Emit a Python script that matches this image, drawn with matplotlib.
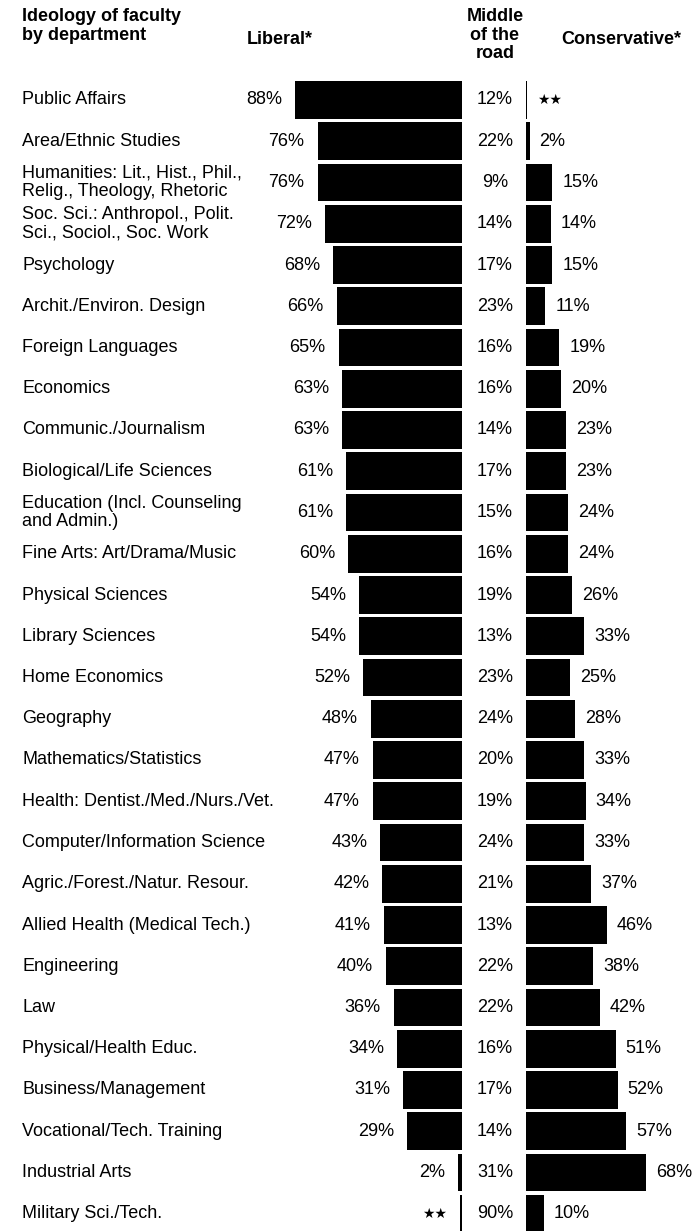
import numpy as np
import matplotlib.pyplot as plt
from matplotlib.transforms import blended_transform_factory

plt.rcParams['font.family'] = ['Liberation Sans', 'DejaVu Sans']

# Data (None = "**", less than 1%)
departments = [
    'Public Affairs', 'Area/Ethnic Studies',
    'Humanities: Lit., Hist., Phil.,\nRelig., Theology, Rhetoric',
    'Soc. Sci.: Anthropol., Polit.\nSci., Sociol., Soc. Work',
    'Psychology', 'Archit./Environ. Design', 'Foreign Languages', 'Economics',
    'Communic./Journalism', 'Biological/Life Sciences',
    'Education (Incl. Counseling\nand Admin.)', 'Fine Arts: Art/Drama/Music',
    'Physical Sciences', 'Library Sciences', 'Home Economics', 'Geography',
    'Mathematics/Statistics', 'Health: Dentist./Med./Nurs./Vet.',
    'Computer/Information Science', 'Agric./Forest./Natur. Resour.',
    'Allied Health (Medical Tech.)', 'Engineering', 'Law',
    'Physical/Health Educ.', 'Business/Management',
    'Vocational/Tech. Training', 'Industrial Arts', 'Military Sci./Tech.',
]
liberal = [88, 76, 76, 72, 68, 66, 65, 63, 63, 61, 61, 60, 54, 54, 52, 48,
           47, 47, 43, 42, 41, 40, 36, 34, 31, 29, 2, None]
middle = [12, 22, 9, 14, 17, 23, 16, 16, 14, 17, 15, 16, 19, 13, 23, 24,
          20, 19, 24, 21, 13, 22, 22, 16, 17, 14, 31, 90]
conservative = [None, 2, 15, 14, 15, 11, 19, 20, 23, 23, 24, 24, 26, 33, 25, 28,
                33, 34, 33, 37, 46, 38, 42, 51, 52, 57, 68, 10]

TINY = 0.8  # drawn width for "**" (<1%)

W, H = 692, 1231
fig = plt.figure(figsize=(W / 100, H / 100), dpi=100)

rows = np.arange(len(departments))
pitch = 41.25
ylim = ((H - 100) / pitch, -100 / pitch)

# liberal axis: zero at x=462px, 1.9 px per %
ax_lib = fig.add_axes([250 / W, 0, 212 / W, 1])
ax_lib.set_xlim(212 / 1.9, 0)
# conservative axis: zero at x=526px, 1.76 px per %
ax_con = fig.add_axes([526 / W, 0, 166 / W, 1])
ax_con.set_xlim(0, 166 / 1.76)
for ax in (ax_lib, ax_con):
    ax.set_ylim(*ylim)
    ax.axis('off')

FS = 13
LS = 1.12
lib_vals = [TINY if v is None else v for v in liberal]
con_vals = [TINY if v is None else v for v in conservative]
ax_lib.barh(rows, lib_vals, height=0.91, color='black', linewidth=0)
ax_con.barh(rows, con_vals, height=0.91, color='black', linewidth=0)

def star_or_pct(ax, v, y, dx, ha):
    x = TINY if v is None else v
    if v is None:
        ax.annotate('★★', (x, y), xytext=(dx, 0), textcoords='offset pixels',
                    ha=ha, va='center', fontsize=10, family='DejaVu Sans')
    else:
        ax.annotate(f'{v}%', (x, y), xytext=(dx, 0), textcoords='offset pixels',
                    ha=ha, va='center', fontsize=FS)

for i in rows:
    star_or_pct(ax_lib, liberal[i], i, -13, 'right')
    star_or_pct(ax_con, conservative[i], i, 10, 'left')

# department names and middle-of-the-road column
tr = blended_transform_factory(fig.transFigure, ax_lib.transData)
for i, name in enumerate(departments):
    ax_lib.text(22 / W, i, name, transform=tr, ha='left', va='center',
                fontsize=FS, linespacing=LS, clip_on=False)
    ax_lib.text(495 / W, i, f'{middle[i]}%', transform=tr, ha='center',
                va='center', fontsize=FS, clip_on=False)

# headers
fig.text(22 / W, 1 - 8 / H, 'Ideology of faculty\nby department', ha='left',
         va='top', fontsize=FS, fontweight='bold', linespacing=LS)
fig.text(247 / W, 1 - 44 / H, 'Liberal*', ha='left', va='baseline',
         fontsize=FS, fontweight='bold')
fig.text(495 / W, 1 - 8 / H, 'Middle\nof the\nroad', ha='center', va='top',
         fontsize=FS, fontweight='bold', linespacing=LS)
fig.text(561 / W, 1 - 44 / H, 'Conservative*', ha='left', va='baseline',
         fontsize=FS, fontweight='bold')

fig.savefig('out.png', dpi=100, facecolor='white')
